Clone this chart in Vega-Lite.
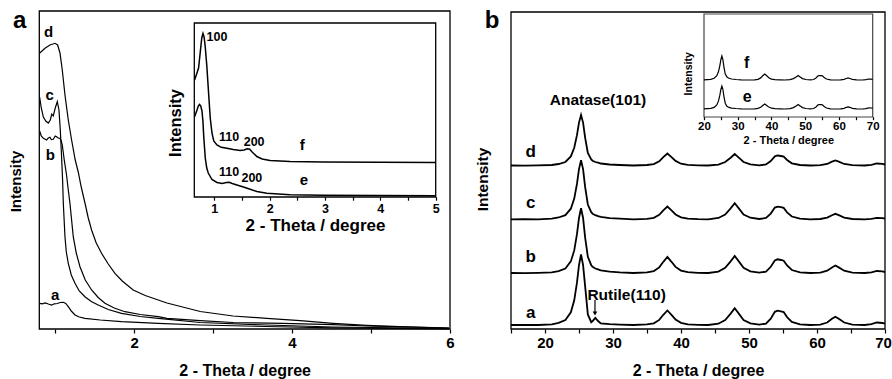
{
"$schema": "https://vega.github.io/schema/vega-lite/v6.json",
"width": 892, "height": 379, "padding": 0, "autosize": {"type": "none"},
"background": "white",
"config": {"view": {"stroke": null}, "font": "Liberation Sans",
  "axis": {"grid": false, "domain": false, "tickColor": "black", "labelColor": "black", "titleColor": "black", "labelFontWeight": "bold", "titleFontWeight": "bold", "labelFlush": false, "labelOverlap": false, "labelBound": false, "minExtent": 0, "tickWidth": 1.2, "zindex": 1}},
"datasets": {
"aMain": [
{"s":"d","x":0.806,"v":276},{"s":"d","x":0.872,"v":280.7},{"s":"d","x":0.935,"v":284},{"s":"d","x":0.999,"v":285.7},{"s":"d","x":1.032,"v":284},{"s":"d","x":1.062,"v":276},{"s":"d","x":1.091,"v":259},{"s":"d","x":1.125,"v":234},{"s":"d","x":1.167,"v":209},{"s":"d","x":1.209,"v":189},{"s":"d","x":1.255,"v":169},{"s":"d","x":1.293,"v":157},{"s":"d","x":1.331,"v":142},{"s":"d","x":1.378,"v":126},{"s":"d","x":1.42,"v":111},{"s":"d","x":1.462,"v":99},{"s":"d","x":1.521,"v":86},{"s":"d","x":1.588,"v":75.7},{"s":"d","x":1.673,"v":65},{"s":"d","x":1.758,"v":55.7},{"s":"d","x":1.85,"v":48},{"s":"d","x":1.989,"v":39},{"s":"d","x":2.141,"v":33.5},{"s":"d","x":2.416,"v":26},{"s":"d","x":2.837,"v":17.5},{"s":"d","x":3.254,"v":13},{"s":"d","x":3.681,"v":10.7},{"s":"d","x":4.102,"v":8.3},{"s":"d","x":4.52,"v":5.7},{"s":"d","x":4.946,"v":3.7},{"s":"d","x":5.367,"v":2.3},{"s":"d","x":5.987,"v":1},
{"s":"c","x":0.804,"v":232},{"s":"c","x":0.825,"v":221},{"s":"c","x":0.851,"v":212},{"s":"c","x":0.882,"v":208},{"s":"c","x":0.914,"v":206},{"s":"c","x":0.939,"v":209},{"s":"c","x":0.958,"v":215},{"s":"c","x":0.977,"v":213},{"s":"c","x":1.002,"v":221},{"s":"c","x":1.028,"v":227.3},{"s":"c","x":1.049,"v":219},{"s":"c","x":1.066,"v":199},{"s":"c","x":1.082,"v":172.3},{"s":"c","x":1.095,"v":149},{"s":"c","x":1.104,"v":125.7},{"s":"c","x":1.125,"v":92.3},{"s":"c","x":1.142,"v":77},{"s":"c","x":1.167,"v":65.7},{"s":"c","x":1.205,"v":54},{"s":"c","x":1.252,"v":45.7},{"s":"c","x":1.306,"v":38},{"s":"c","x":1.378,"v":32.3},{"s":"c","x":1.458,"v":27.5},{"s":"c","x":1.546,"v":24},{"s":"c","x":1.673,"v":19.5},{"s":"c","x":1.841,"v":15.7},{"s":"c","x":2.078,"v":12.5},{"s":"c","x":2.306,"v":10.7},{"s":"c","x":2.837,"v":6.5},{"s":"c","x":3.681,"v":4},{"s":"c","x":4.52,"v":2},{"s":"c","x":5.987,"v":0.5},
{"s":"b","x":0.804,"v":198},{"s":"b","x":0.825,"v":193},{"s":"b","x":0.851,"v":190.7},{"s":"b","x":0.892,"v":189},{"s":"b","x":0.914,"v":191},{"s":"b","x":0.935,"v":191.7},{"s":"b","x":0.952,"v":189.5},{"s":"b","x":0.977,"v":189.7},{"s":"b","x":1.002,"v":193},{"s":"b","x":1.019,"v":192.3},{"s":"b","x":1.04,"v":191},{"s":"b","x":1.062,"v":190.7},{"s":"b","x":1.078,"v":188},{"s":"b","x":1.091,"v":184},{"s":"b","x":1.116,"v":169},{"s":"b","x":1.145,"v":154},{"s":"b","x":1.167,"v":139},{"s":"b","x":1.188,"v":125.7},{"s":"b","x":1.209,"v":109},{"s":"b","x":1.23,"v":92.3},{"s":"b","x":1.268,"v":76},{"s":"b","x":1.315,"v":62.3},{"s":"b","x":1.382,"v":49},{"s":"b","x":1.462,"v":39},{"s":"b","x":1.546,"v":31.5},{"s":"b","x":1.631,"v":25.7},{"s":"b","x":1.749,"v":21},{"s":"b","x":1.884,"v":17.3},{"s":"b","x":2.078,"v":14.5},{"s":"b","x":2.306,"v":12.3},{"s":"b","x":2.416,"v":10.7},{"s":"b","x":2.837,"v":8.3},{"s":"b","x":3.254,"v":6.5},{"s":"b","x":3.887,"v":5.7},{"s":"b","x":4.52,"v":4.3},{"s":"b","x":4.946,"v":3},{"s":"b","x":5.987,"v":1},
{"s":"a","x":0.804,"v":25.7},{"s":"a","x":0.838,"v":25.2},{"s":"a","x":0.876,"v":26},{"s":"a","x":0.914,"v":25},{"s":"a","x":0.956,"v":24},{"s":"a","x":0.99,"v":25.2},{"s":"a","x":1.028,"v":25.5},{"s":"a","x":1.066,"v":26.5},{"s":"a","x":1.104,"v":26.7},{"s":"a","x":1.135,"v":25.5},{"s":"a","x":1.167,"v":22.3},{"s":"a","x":1.205,"v":18},{"s":"a","x":1.252,"v":14},{"s":"a","x":1.306,"v":12},{"s":"a","x":1.378,"v":10.7},{"s":"a","x":1.572,"v":9},{"s":"a","x":1.841,"v":7.3},{"s":"a","x":2.306,"v":5.7},{"s":"a","x":2.837,"v":4},{"s":"a","x":3.672,"v":2.5},{"s":"a","x":4.52,"v":1.2},{"s":"a","x":5.987,"v":0.2}
],
"aLabels": [{"t":"d","x":0.918,"v":297.3},{"t":"c","x":0.93,"v":234},{"t":"b","x":0.939,"v":174},{"t":"a","x":1.002,"v":34}],
"aInset": [
{"s":"f","x":0.645,"v":117},{"s":"f","x":0.676,"v":122},{"s":"f","x":0.717,"v":129},{"s":"f","x":0.748,"v":145},{"s":"f","x":0.775,"v":159},{"s":"f","x":0.797,"v":163.5},{"s":"f","x":0.817,"v":160},{"s":"f","x":0.838,"v":150},{"s":"f","x":0.865,"v":132},{"s":"f","x":0.898,"v":104},{"s":"f","x":0.928,"v":79},{"s":"f","x":0.959,"v":64},{"s":"f","x":0.991,"v":56},{"s":"f","x":1.049,"v":52},{"s":"f","x":1.126,"v":49.7},{"s":"f","x":1.229,"v":48.7},{"s":"f","x":1.343,"v":47.5},{"s":"f","x":1.469,"v":46.5},{"s":"f","x":1.541,"v":47},{"s":"f","x":1.595,"v":48.3},{"s":"f","x":1.64,"v":47.7},{"s":"f","x":1.685,"v":45},{"s":"f","x":1.77,"v":40.5},{"s":"f","x":1.865,"v":38},{"s":"f","x":2.009,"v":36.5},{"s":"f","x":2.37,"v":35.5},{"s":"f","x":2.964,"v":35},{"s":"f","x":3.991,"v":34.7},{"s":"f","x":4.995,"v":34.5},
{"s":"e","x":0.645,"v":80.3},{"s":"e","x":0.689,"v":87},{"s":"e","x":0.712,"v":91},{"s":"e","x":0.735,"v":92.5},{"s":"e","x":0.757,"v":91},{"s":"e","x":0.779,"v":86},{"s":"e","x":0.797,"v":75},{"s":"e","x":0.811,"v":60},{"s":"e","x":0.838,"v":39},{"s":"e","x":0.865,"v":29},{"s":"e","x":0.892,"v":24},{"s":"e","x":0.959,"v":17.5},{"s":"e","x":1.049,"v":14.5},{"s":"e","x":1.145,"v":13.5},{"s":"e","x":1.217,"v":14.5},{"s":"e","x":1.271,"v":14.7},{"s":"e","x":1.325,"v":13.5},{"s":"e","x":1.438,"v":11.5},{"s":"e","x":1.528,"v":10},{"s":"e","x":1.649,"v":7.7},{"s":"e","x":1.77,"v":5.5},{"s":"e","x":1.95,"v":3.7},{"s":"e","x":2.37,"v":2.3},{"s":"e","x":2.964,"v":1.7},{"s":"e","x":3.991,"v":1.5},{"s":"e","x":4.995,"v":1.3}
],
"aInsetPeaks": [{"t":"100","x":1.049,"v":160.3},{"t":"110","x":1.27,"v":60.3},{"t":"200","x":1.72,"v":55.3},{"t":"110","x":1.27,"v":25.3},{"t":"200","x":1.68,"v":18.7}],
"aInsetNames": [{"t":"f","x":2.59,"v":52},{"t":"e","x":2.62,"v":17}],
"bMain": [
{"x":15,"a":4,"b":56,"c":109.7,"d":163.5},{"x":17,"a":4.2,"b":55.8,"c":109.9,"d":163.3},{"x":19,"a":4,"b":56.2,"c":109.6,"d":163.7},{"x":21,"a":4.7,"b":56.6,"c":110.3,"d":164},{"x":22,"a":6.1,"b":57.9,"c":111.5,"d":165},{"x":23,"a":8.9,"b":60.5,"c":113.8,"d":167},{"x":23.8,"a":16.7,"b":67.6,"c":120.3,"d":172.6},{"x":24.3,"a":28.7,"b":78.6,"c":130.4,"d":181.2},{"x":24.7,"a":46.3,"b":94.8,"c":145.1,"d":193.8},{"x":25,"a":63.9,"b":111,"c":159.9,"d":206.4},{"x":25.3,"a":74.5,"b":120.7,"c":168.7,"d":214},{"x":25.6,"a":63.9,"b":111,"c":159.9,"d":206.4},{"x":25.9,"a":42.8,"b":91.6,"c":142.1,"d":191.3},{"x":26.3,"a":14.6,"b":72.2,"c":124.5,"d":176.1},{"x":26.8,"a":6.8,"b":63.8,"c":116.8,"d":169.6},{"x":27,"a":8,"b":62.1,"c":115.3,"d":168.3},{"x":27.4,"a":11.2,"b":60.5,"c":113.8,"d":167},{"x":27.8,"a":8,"b":59.6,"c":112.9,"d":166.3},{"x":28.2,"a":5.5,"b":58.6,"c":112.1,"d":165.5},{"x":29.5,"a":4.8,"b":57.3,"c":110.9,"d":164.5},{"x":31,"a":4.4,"b":56.6,"c":110.3,"d":164},{"x":33,"a":4,"b":56,"c":109.7,"d":163.5},{"x":35,"a":4.6,"b":56.6,"c":110.2,"d":164},{"x":36,"a":5.7,"b":57.9,"c":111.2,"d":164.9},{"x":36.8,"a":9.1,"b":61.6,"c":114.1,"d":167.7},{"x":37.4,"a":14.2,"b":67.2,"c":118.6,"d":171.9},{"x":38,"a":18.5,"b":72,"c":122.4,"d":175.5},{"x":38.6,"a":14.2,"b":67.2,"c":118.6,"d":171.9},{"x":39.2,"a":9.5,"b":62.1,"c":114.5,"d":168.1},{"x":40,"a":6.2,"b":58.4,"c":111.6,"d":165.3},{"x":41,"a":4.7,"b":56.8,"c":110.3,"d":164.1},{"x":42.5,"a":4.1,"b":56.2,"c":109.8,"d":163.6},{"x":44,"a":4,"b":56,"c":109.7,"d":163.5},{"x":45.5,"a":5.3,"b":57.4,"c":111,"d":164.4},{"x":46.5,"a":9,"b":61.1,"c":114.5,"d":167},{"x":47.3,"a":15.4,"b":67.6,"c":120.6,"d":171.3},{"x":47.9,"a":20.7,"b":73,"c":125.7,"d":175},{"x":48.5,"a":15.4,"b":67.6,"c":120.6,"d":171.3},{"x":49.2,"a":9,"b":61.1,"c":114.5,"d":167},{"x":50.2,"a":5.7,"b":57.7,"c":111.3,"d":164.7},{"x":51.5,"a":4.3,"b":56.3,"c":110,"d":163.7},{"x":52.5,"a":5.4,"b":57.4,"c":111,"d":164.5},{"x":53.2,"a":10.4,"b":62.2,"c":115.4,"d":168},{"x":53.8,"a":17.2,"b":68.6,"c":121.4,"d":172.7},{"x":54.2,"a":18.3,"b":69.7,"c":122.4,"d":173.5},{"x":54.7,"a":17.6,"b":69,"c":121.8,"d":173},{"x":55.1,"a":16.9,"b":68.3,"c":121.1,"d":172.5},{"x":55.6,"a":11.9,"b":63.5,"c":116.7,"d":169},{"x":56.3,"a":7.1,"b":59,"c":112.5,"d":165.7},{"x":57.5,"a":4.7,"b":56.7,"c":110.3,"d":164},{"x":59,"a":4,"b":56,"c":109.7,"d":163.5},{"x":60.5,"a":4.4,"b":56.4,"c":110,"d":163.8},{"x":61.5,"a":6.5,"b":58.3,"c":111.4,"d":165},{"x":62.2,"a":10.2,"b":61.6,"c":113.8,"d":167.3},{"x":62.7,"a":12.3,"b":63.5,"c":115.2,"d":168.5},{"x":63.2,"a":10.2,"b":61.6,"c":113.8,"d":167.3},{"x":64,"a":6.5,"b":58.3,"c":111.4,"d":165},{"x":65.2,"a":4.4,"b":56.4,"c":110,"d":163.8},{"x":67,"a":4,"b":56,"c":109.7,"d":163.5},{"x":68,"a":4.8,"b":56.6,"c":110.2,"d":164.1},{"x":68.8,"a":6.5,"b":58,"c":111.2,"d":165.5},{"x":69.6,"a":6,"b":57.6,"c":110.9,"d":165.1},{"x":70,"a":5.3,"b":57,"c":110.5,"d":164.5}
],
"bLabels": [{"t":"d","x":17.9,"v":177.3},{"t":"c","x":17.9,"v":125.7},{"t":"b","x":17.9,"v":71.7},{"t":"a","x":17.9,"v":15.7}],
"bPhases": [{"t":"Anatase(101)","x":27.8,"v":229},{"t":"Rutile(110)","x":32.0,"v":34}],
"bInset": [
{"x":20,"e":8.1,"f":37.1},{"x":22,"e":8.7,"f":37.7},{"x":23,"e":9.6,"f":38.7},{"x":23.8,"e":12.1,"f":41.3},{"x":24.3,"e":16.1,"f":45.4},{"x":24.7,"e":21.8,"f":51.4},{"x":25,"e":27.6,"f":57.4},{"x":25.3,"e":31,"f":61},{"x":25.6,"e":27.6,"f":57.4},{"x":25.9,"e":20.7,"f":50.2},{"x":26.3,"e":13.8,"f":43},{"x":26.8,"e":10.8,"f":39.9},{"x":27.4,"e":9.6,"f":38.7},{"x":28.2,"e":8.9,"f":38},{"x":29.5,"e":8.5,"f":37.5},{"x":31,"e":8.2,"f":37.2},{"x":33,"e":8,"f":37},{"x":35,"e":8.2,"f":37.2},{"x":36,"e":8.6,"f":37.7},{"x":36.8,"e":9.8,"f":39.1},{"x":37.4,"e":11.5,"f":41.2},{"x":38,"e":13,"f":43},{"x":38.6,"e":11.5,"f":41.2},{"x":39.2,"e":9.9,"f":39.3},{"x":40,"e":8.8,"f":37.9},{"x":41,"e":8.3,"f":37.3},{"x":42.5,"e":8.1,"f":37.1},{"x":44,"e":8,"f":37},{"x":45.5,"e":8.4,"f":37.4},{"x":46.5,"e":9.4,"f":38.4},{"x":47.3,"e":11.1,"f":40.1},{"x":47.9,"e":12.5,"f":41.5},{"x":48.5,"e":11.1,"f":40.1},{"x":49.2,"e":9.4,"f":38.4},{"x":50.2,"e":8.5,"f":37.5},{"x":51.5,"e":8.1,"f":37.1},{"x":52.5,"e":8.5,"f":37.5},{"x":53.2,"e":10,"f":39},{"x":53.8,"e":12.1,"f":41.1},{"x":54.2,"e":12.5,"f":41.5},{"x":54.7,"e":12.3,"f":41.3},{"x":55.1,"e":12.1,"f":41.1},{"x":55.6,"e":10.5,"f":39.5},{"x":56.3,"e":9,"f":38},{"x":57.5,"e":8.2,"f":37.2},{"x":59,"e":8,"f":37},{"x":60.5,"e":8.1,"f":37.1},{"x":61.5,"e":8.7,"f":37.6},{"x":62.2,"e":9.7,"f":38.5},{"x":62.7,"e":10.2,"f":39},{"x":63.2,"e":9.7,"f":38.5},{"x":64,"e":8.7,"f":37.6},{"x":65.2,"e":8.1,"f":37.1},{"x":67,"e":8,"f":37},{"x":68,"e":8.4,"f":37.3},{"x":68.8,"e":9.2,"f":38},{"x":69.6,"e":9,"f":37.8},{"x":70,"e":8.6,"f":37.5}
],
"bInsetNames": [{"t":"f","x":32.65,"v":53.7},{"t":"e","x":32.8,"v":19.7}]
},
"layer": [
{"layer": [
 {"data": {"values": [{}]}, "mark": {"type": "rect", "filled": false, "stroke": "black", "strokeWidth": 1.3},
  "encoding": {
   "x": {"datum": 0.8, "type": "quantitative", "scale": {"domain": [0.8, 6], "range": [39.3, 450], "nice": false, "zero": false},
     "axis": {"orient": "bottom", "offset": -50, "zindex": 1, "values": [1,2,3,4,5,6], "labelExpr": "datum.value % 2 === 0 ? '' + datum.value : ''", "tickSize": 4, "labelFontSize": 15, "labelPadding": 2, "title": "2 - Theta / degree", "titleFontSize": 16, "titlePadding": 12}},
   "x2": {"datum": 6},
   "y": {"datum": 0, "type": "quantitative", "scale": {"domain": [0, 318], "range": [329, 11], "nice": false, "zero": false},
     "axis": {"orient": "left", "offset": -39.3, "zindex": 1, "labels": false, "ticks": false, "title": "Intensity", "titleFontSize": 15, "titleAngle": 270, "titleBaseline": "bottom", "titleAlign": "center", "titleX": -16, "titleY": 181}},
   "y2": {"datum": 318}}},
 {"data": {"name": "aMain"}, "mark": {"type": "line", "color": "black", "strokeWidth": 1.2},
  "encoding": {
   "x": {"field": "x", "type": "quantitative", "scale": {"domain": [0.8, 6], "range": [39.3, 450], "nice": false, "zero": false}},
   "y": {"field": "v", "type": "quantitative", "scale": {"domain": [0, 318], "range": [329, 11], "nice": false, "zero": false}},
   "detail": {"field": "s"}}},
 {"data": {"name": "aLabels"}, "mark": {"type": "text", "fontSize": 15, "fontWeight": "bold", "color": "black"},
  "encoding": {
   "x": {"field": "x", "type": "quantitative", "scale": {"domain": [0.8, 6], "range": [39.3, 450], "nice": false, "zero": false}},
   "y": {"field": "v", "type": "quantitative", "scale": {"domain": [0, 318], "range": [329, 11], "nice": false, "zero": false}},
   "text": {"field": "t"}}},
 {"data": {"values": [{}]}, "mark": {"type": "text", "fontSize": 24, "fontWeight": "bold", "baseline": "alphabetic", "color": "black"},
  "encoding": {
   "x": {"datum": 0.551, "type": "quantitative", "scale": {"domain": [0.8, 6], "range": [39.3, 450], "nice": false, "zero": false}},
   "y": {"datum": 300.7, "type": "quantitative", "scale": {"domain": [0, 318], "range": [329, 11], "nice": false, "zero": false}},
   "text": {"value": "a"}}}
]},
{"layer": [
 {"data": {"values": [{}]}, "mark": {"type": "rect", "filled": false, "stroke": "black", "strokeWidth": 1.3},
  "encoding": {
   "x": {"datum": 0.64, "type": "quantitative", "scale": {"domain": [0.64, 5], "range": [194.3, 435.7], "nice": false, "zero": false},
     "axis": {"orient": "bottom", "offset": -182.3, "zindex": 1, "values": [1,1.5,2,2.5,3,3.5,4,4.5,5], "labelExpr": "datum.value % 1 === 0 ? '' + datum.value : ''", "tickSize": 3.5, "labelFontSize": 12.5, "labelPadding": 2, "title": "2 - Theta / degree", "titleFontSize": 17, "titlePadding": 3}},
   "x2": {"datum": 5},
   "y": {"datum": 0, "type": "quantitative", "scale": {"domain": [0, 174], "range": [197, 23], "nice": false, "zero": false},
     "axis": {"orient": "left", "offset": -194.3, "zindex": 1, "labels": false, "ticks": false, "title": "Intensity", "titleFontSize": 16.5, "titleAngle": 270, "titleBaseline": "bottom", "titleAlign": "center", "titleX": -10.8, "titleY": 122.5}},
   "y2": {"datum": 174}}},
 {"data": {"name": "aInset"}, "mark": {"type": "line", "color": "black", "strokeWidth": 1.5},
  "encoding": {
   "x": {"field": "x", "type": "quantitative", "scale": {"domain": [0.64, 5], "range": [194.3, 435.7], "nice": false, "zero": false}},
   "y": {"field": "v", "type": "quantitative", "scale": {"domain": [0, 174], "range": [197, 23], "nice": false, "zero": false}},
   "detail": {"field": "s"}}},
 {"data": {"name": "aInsetPeaks"}, "mark": {"type": "text", "fontSize": 12.5, "fontWeight": "bold", "color": "black"},
  "encoding": {
   "x": {"field": "x", "type": "quantitative", "scale": {"domain": [0.64, 5], "range": [194.3, 435.7], "nice": false, "zero": false}},
   "y": {"field": "v", "type": "quantitative", "scale": {"domain": [0, 174], "range": [197, 23], "nice": false, "zero": false}},
   "text": {"field": "t"}}},
 {"data": {"name": "aInsetNames"}, "mark": {"type": "text", "fontSize": 15, "fontWeight": "bold", "color": "black"},
  "encoding": {
   "x": {"field": "x", "type": "quantitative", "scale": {"domain": [0.64, 5], "range": [194.3, 435.7], "nice": false, "zero": false}},
   "y": {"field": "v", "type": "quantitative", "scale": {"domain": [0, 174], "range": [197, 23], "nice": false, "zero": false}},
   "text": {"field": "t"}}}
]},
{"layer": [
 {"data": {"values": [{}]}, "mark": {"type": "rect", "filled": false, "stroke": "black", "strokeWidth": 1.3},
  "encoding": {
   "x": {"datum": 15, "type": "quantitative", "scale": {"domain": [15, 70], "range": [511, 885], "nice": false, "zero": false},
     "axis": {"orient": "bottom", "offset": -50, "zindex": 1, "values": [15,20,25,30,35,40,45,50,55,60,65,70], "labelExpr": "datum.value % 10 === 0 ? '' + datum.value : ''", "labelOffset": {"condition": {"test": "datum.value === 70", "value": -2}, "value": 0}, "tickSize": 4, "labelFontSize": 15, "labelPadding": 2, "title": "2 - Theta / degree", "titleFontSize": 16, "titlePadding": 12}},
   "x2": {"datum": 70},
   "y": {"datum": 0, "type": "quantitative", "scale": {"domain": [0, 317], "range": [329, 12], "nice": false, "zero": false},
     "axis": {"orient": "left", "offset": -511, "zindex": 1, "labels": false, "ticks": false, "title": "Intensity", "titleFontSize": 15.5, "titleAngle": 270, "titleBaseline": "bottom", "titleAlign": "center", "titleX": -20.5, "titleY": 179}},
   "y2": {"datum": 317}}},
 {"data": {"name": "bMain"}, "transform": [{"fold": ["a", "b", "c", "d"], "as": ["s", "v"]}],
  "mark": {"type": "line", "color": "black", "strokeWidth": 1.8},
  "encoding": {
   "x": {"field": "x", "type": "quantitative", "scale": {"domain": [15, 70], "range": [511, 885], "nice": false, "zero": false}},
   "y": {"field": "v", "type": "quantitative", "scale": {"domain": [0, 317], "range": [329, 12], "nice": false, "zero": false}},
   "detail": {"field": "s"}}},
 {"data": {"name": "bLabels"}, "mark": {"type": "text", "fontSize": 17, "fontWeight": "bold", "color": "black"},
  "encoding": {
   "x": {"field": "x", "type": "quantitative", "scale": {"domain": [15, 70], "range": [511, 885], "nice": false, "zero": false}},
   "y": {"field": "v", "type": "quantitative", "scale": {"domain": [0, 317], "range": [329, 12], "nice": false, "zero": false}},
   "text": {"field": "t"}}},
 {"data": {"name": "bPhases"}, "mark": {"type": "text", "fontSize": 15.5, "fontWeight": "bold", "color": "black"},
  "encoding": {
   "x": {"field": "x", "type": "quantitative", "scale": {"domain": [15, 70], "range": [511, 885], "nice": false, "zero": false}},
   "y": {"field": "v", "type": "quantitative", "scale": {"domain": [0, 317], "range": [329, 12], "nice": false, "zero": false}},
   "text": {"field": "t"}}},
 {"data": {"values": [{}]}, "mark": {"type": "rule", "color": "black", "strokeWidth": 1.2},
  "encoding": {
   "x": {"datum": 27.35, "type": "quantitative", "scale": {"domain": [15, 70], "range": [511, 885], "nice": false, "zero": false}},
   "y": {"datum": 29, "type": "quantitative", "scale": {"domain": [0, 317], "range": [329, 12], "nice": false, "zero": false}},
   "y2": {"datum": 17}}},
 {"data": {"values": [{}]}, "mark": {"type": "point", "shape": "triangle-down", "filled": true, "color": "black", "size": 22, "opacity": 1},
  "encoding": {
   "x": {"datum": 27.35, "type": "quantitative", "scale": {"domain": [15, 70], "range": [511, 885], "nice": false, "zero": false}},
   "y": {"datum": 15.5, "type": "quantitative", "scale": {"domain": [0, 317], "range": [329, 12], "nice": false, "zero": false}}}},
 {"data": {"values": [{}]}, "mark": {"type": "text", "fontSize": 24, "fontWeight": "bold", "baseline": "alphabetic", "color": "black"},
  "encoding": {
   "x": {"datum": 12.2, "type": "quantitative", "scale": {"domain": [15, 70], "range": [511, 885], "nice": false, "zero": false}},
   "y": {"datum": 300.7, "type": "quantitative", "scale": {"domain": [0, 317], "range": [329, 12], "nice": false, "zero": false}},
   "text": {"value": "b"}}}
]},
{"layer": [
 {"data": {"values": [{}]}, "mark": {"type": "rect", "filled": false, "stroke": "#444444", "strokeWidth": 1.2},
  "encoding": {
   "x": {"datum": 20, "type": "quantitative", "scale": {"domain": [20, 70], "range": [704, 872.7], "nice": false, "zero": false},
     "axis": {"orient": "bottom", "offset": -262.3, "zindex": 1, "values": [20,25,30,35,40,45,50,55,60,65,70], "labelExpr": "datum.value % 10 === 0 ? '' + datum.value : ''", "tickSize": 3, "labelFontSize": 11.5, "labelPadding": 1, "title": "2 - Theta / degree", "titleFontSize": 11, "titlePadding": 2}},
   "x2": {"datum": 70},
   "y": {"datum": 0, "type": "quantitative", "scale": {"domain": [0, 103], "range": [117, 14], "nice": false, "zero": false},
     "axis": {"orient": "left", "offset": -704, "zindex": 1, "labels": false, "ticks": false, "title": "Intensity", "titleFontSize": 10.5, "titleAngle": 270, "titleBaseline": "bottom", "titleAlign": "center", "titleX": -11, "titleY": 73.3}},
   "y2": {"datum": 103}}},
 {"data": {"name": "bInset"}, "transform": [{"fold": ["e", "f"], "as": ["s", "v"]}],
  "mark": {"type": "line", "color": "black", "strokeWidth": 1.2},
  "encoding": {
   "x": {"field": "x", "type": "quantitative", "scale": {"domain": [20, 70], "range": [704, 872.7], "nice": false, "zero": false}},
   "y": {"field": "v", "type": "quantitative", "scale": {"domain": [0, 103], "range": [117, 14], "nice": false, "zero": false}},
   "detail": {"field": "s"}}},
 {"data": {"name": "bInsetNames"}, "mark": {"type": "text", "fontSize": 16, "fontWeight": "bold", "color": "black"},
  "encoding": {
   "x": {"field": "x", "type": "quantitative", "scale": {"domain": [20, 70], "range": [704, 872.7], "nice": false, "zero": false}},
   "y": {"field": "v", "type": "quantitative", "scale": {"domain": [0, 103], "range": [117, 14], "nice": false, "zero": false}},
   "text": {"field": "t"}}}
]}
],
"resolve": {"scale": {"x": "independent", "y": "independent"}, "axis": {"x": "independent", "y": "independent"}}
}
